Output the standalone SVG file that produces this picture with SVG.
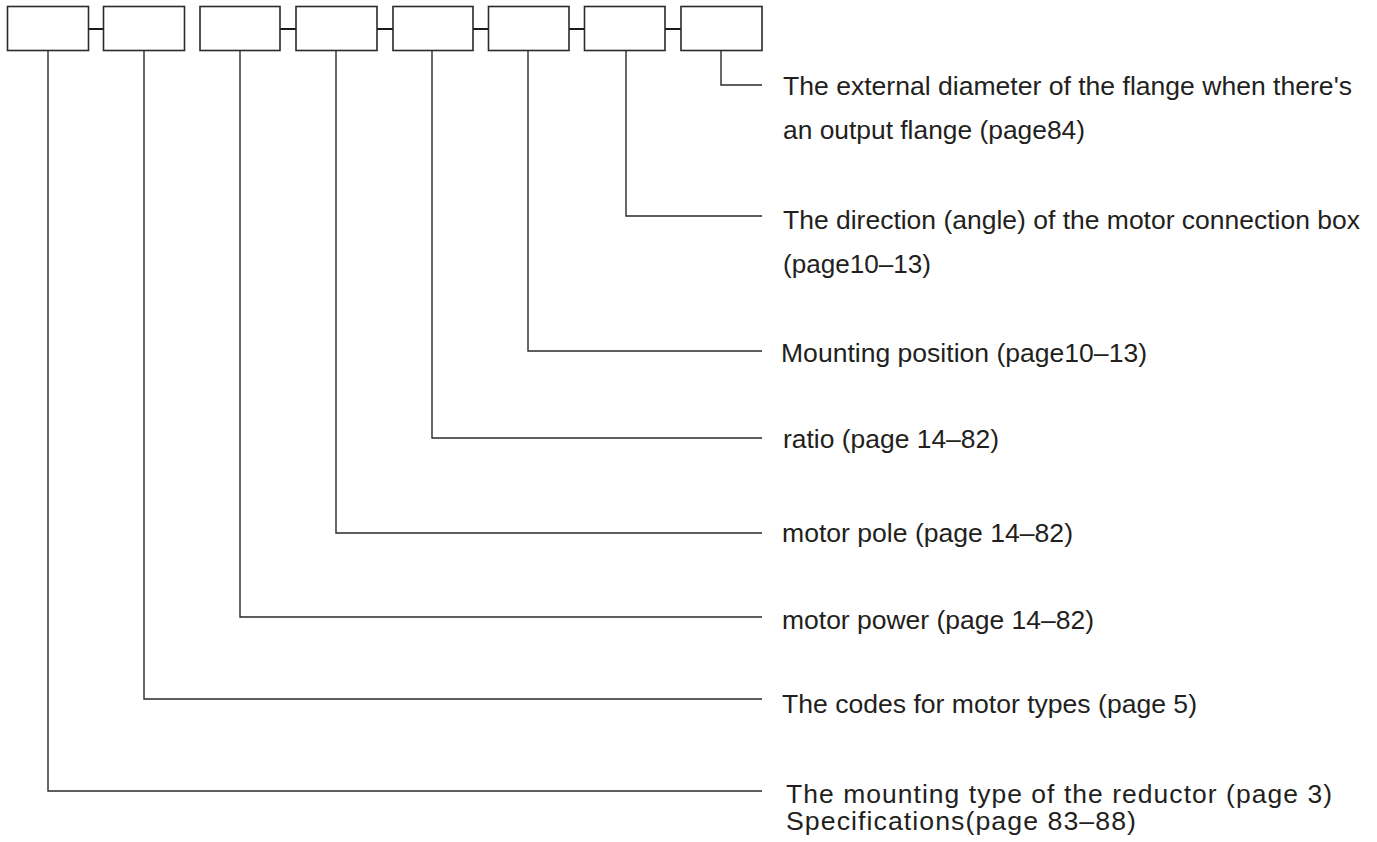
<svg xmlns="http://www.w3.org/2000/svg" width="1377" height="842" viewBox="0 0 1377 842">
<style>
.box{fill:#fff;stroke:#2a2a2a;stroke-width:1.6}
.ln{fill:none;stroke:#2a2a2a;stroke-width:1.4}
.lk{fill:none;stroke:#1a1a1a;stroke-width:2}
.t{font-family:"Liberation Sans",Arial,sans-serif;font-size:26px;fill:#231f20}
.t2{font-family:"Liberation Sans",Arial,sans-serif;font-size:25px;fill:#231f20;letter-spacing:1px}
</style>
<rect width="1377" height="842" fill="#fff"/>
<g id="connectors">
<path class="lk" d="M88 29H104M280 29H296M377 29H393M473 29H488M569 29H584M665 29H681"/>
<path class="ln" d="M721 51V85H762"/>
<path class="ln" d="M626 51V216H762"/>
<path class="ln" d="M528 51V351H762"/>
<path class="ln" d="M432 51V438H762"/>
<path class="ln" d="M336 51V533H762"/>
<path class="ln" d="M240 51V617H762"/>
<path class="ln" d="M144 51V699H762"/>
<path class="ln" d="M48 51V791H762"/>
</g>
<g id="box1"><rect class="box" x="7.5" y="6.5" width="81" height="44"/></g>
<g id="box2"><rect class="box" x="103.5" y="6.5" width="81" height="44"/></g>
<g id="box3"><rect class="box" x="200" y="6.5" width="80" height="44"/></g>
<g id="box4"><rect class="box" x="296" y="6.5" width="81" height="44"/></g>
<g id="box5"><rect class="box" x="393" y="6.5" width="80" height="44"/></g>
<g id="box6"><rect class="box" x="488.5" y="6.5" width="80.5" height="44"/></g>
<g id="box7"><rect class="box" x="584.5" y="6.5" width="80.5" height="44"/></g>
<g id="box8"><rect class="box" x="681" y="6.5" width="81" height="44"/></g>
<g id="labels">
<text class="t" x="783" y="95" textLength="569" lengthAdjust="spacingAndGlyphs">The external diameter of the flange when there's</text>
<text class="t" x="783" y="139" textLength="302" lengthAdjust="spacingAndGlyphs">an output flange (page84)</text>
<text class="t" x="783" y="229" textLength="577" lengthAdjust="spacingAndGlyphs">The direction (angle) of the motor connection box</text>
<text class="t" x="783" y="273" textLength="148" lengthAdjust="spacingAndGlyphs">(page10–13)</text>
<text class="t" x="781" y="362" textLength="366" lengthAdjust="spacingAndGlyphs">Mounting position (page10–13)</text>
<text class="t" x="783" y="448" textLength="216" lengthAdjust="spacingAndGlyphs">ratio (page 14–82)</text>
<text class="t" x="782" y="542" textLength="291" lengthAdjust="spacingAndGlyphs">motor pole (page 14–82)</text>
<text class="t" x="782" y="629" textLength="312" lengthAdjust="spacingAndGlyphs">motor power (page 14–82)</text>
<text class="t" x="782" y="713" textLength="415" lengthAdjust="spacingAndGlyphs">The codes for motor types (page 5)</text>
<text class="t2" x="786" y="803" textLength="547" lengthAdjust="spacingAndGlyphs">The mounting type of the reductor (page 3)</text>
<text class="t2" x="786" y="830" textLength="351" lengthAdjust="spacingAndGlyphs">Specifications(page 83–88)</text>
</g>
</svg>
